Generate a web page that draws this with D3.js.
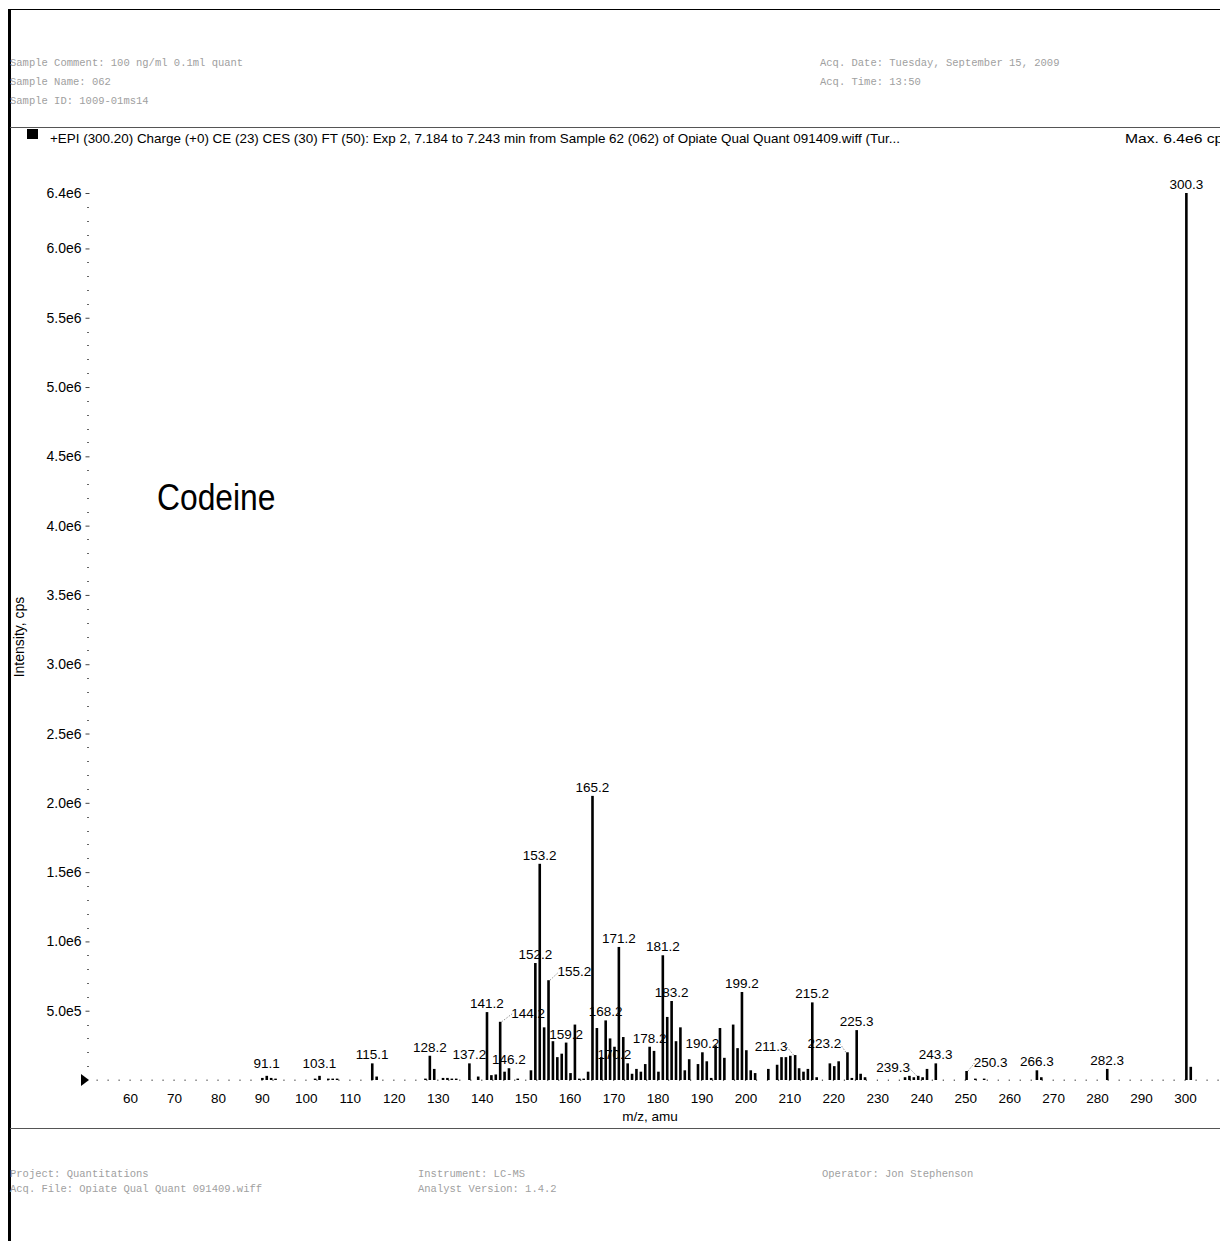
<!DOCTYPE html>
<html>
<head>
<meta charset="utf-8">
<script src="https://cdn.jsdelivr.net/npm/d3@7"></script>
<style>
  body { margin: 0; background: #fff; }
  svg { display: block; }
  text { font-family: "Liberation Sans", Arial, Helvetica, sans-serif; }
  .mono { font-family: "Liberation Mono", "DejaVu Sans Mono", monospace; }
</style>
</head>
<body>
<div id="chart"></div>
<script>
// ---- Spectrum data: centroid m/z and intensity (cps) ----
const peakMz = [
  90.1, 91.1, 92.1, 93.1, 102.1, 103.1, 105.1, 106.1, 107.1, 115.1, 116.1,
  127.2, 128.2, 129.2, 131.2, 132.2, 133.2, 134.2, 137.2, 139.2,
  141.2, 142.2, 143.2, 144.2, 145.2, 146.2, 148.2,
  151.2, 152.2, 153.2, 154.2, 155.2, 156.2, 157.2, 158.2, 159.2, 160.2,
  161.2, 162.2, 163.2, 164.2, 165.2, 166.2, 167.2, 168.2, 169.2, 170.2,
  171.2, 172.2, 173.2, 174.2, 175.2, 176.2, 177.2, 178.2, 179.2, 180.2,
  181.2, 182.2, 183.2, 184.2, 185.2, 186.2, 187.2, 189.2, 190.2,
  191.2, 192.2, 193.2, 194.2, 195.2, 197.2, 198.2, 199.2, 200.2,
  201.2, 202.2, 205.2, 207.2, 208.2, 209.2, 210.2, 211.3, 212.2, 213.2,
  214.2, 215.2, 216.2, 219.2, 220.2, 221.2, 223.2, 224.2, 225.3, 226.2,
  227.2, 236.3, 237.3, 238.3, 239.3, 240.3, 241.3, 243.3,
  250.3, 252.3, 254.3, 266.3, 267.3, 282.3, 300.3, 301.3
];
const peakIntensity = [
  1.5e4, 3e4, 1.5e4, 1e4, 1e4, 3e4, 1e4, 1e4, 1e4, 1.2e5, 2.5e4,
  1e4, 1.75e5, 8e4, 1.5e4, 1.5e4, 1e4, 1e4, 1.2e5, 2.5e4,
  4.9e5, 3.5e4, 4e4, 4.2e5, 6e4, 8.5e4, 1e4,
  7e4, 8.44e5, 1.56e6, 3.8e5, 7.2e5, 2.8e5, 1.65e5, 1.9e5, 2.7e5, 5e4,
  4.0e5, 1e4, 1e4, 6e4, 2.05e6, 3.75e5, 1.65e5, 4.3e5, 3.0e5, 2.4e5,
  9.6e5, 3.1e5, 1.2e5, 4.5e4, 8e4, 6e4, 1.15e5, 2.4e5, 2.1e5, 6e4,
  9.0e5, 4.55e5, 5.7e5, 2.8e5, 3.8e5, 7e4, 1.5e5, 1.15e5, 2.0e5,
  1.35e5, 1.5e4, 2.5e5, 3.75e5, 1.6e5, 4.0e5, 2.3e5, 6.35e5, 2.15e5,
  7e4, 5e4, 8e4, 1.1e5, 1.65e5, 1.65e5, 1.75e5, 1.8e5, 8.5e4, 6e4,
  8e4, 5.6e5, 2e4, 1.2e5, 1.0e5, 1.35e5, 2.0e5, 1.5e4, 3.6e5, 4.5e4,
  2e4, 2e4, 3e4, 2e4, 3e4, 2e4, 8e4, 1.2e5,
  6.5e4, 1e4, 1e4, 7e4, 2e4, 8e4, 6.4e6, 9.5e4
];

// Peaks that carry an m/z annotation
const labelledMz = [
  91.1, 103.1, 115.1, 128.2, 137.2, 141.2, 144.2, 146.2, 152.2, 153.2,
  155.2, 159.2, 165.2, 168.2, 170.2, 171.2, 178.2, 181.2, 183.2, 190.2,
  199.2, 211.3, 215.2, 223.2, 225.3, 239.3, 243.3, 250.3, 266.3, 282.3, 300.3
];

// Axis ticks
const xTickValues = [60, 70, 80, 90, 100, 110, 120, 130, 140, 150, 160, 170, 180,
  190, 200, 210, 220, 230, 240, 250, 260, 270, 280, 290, 300];
const yTickValues = [5e5, 1e6, 1.5e6, 2e6, 2.5e6, 3e6, 3.5e6, 4e6, 4.5e6, 5e6, 5.5e6, 6e6, 6.4e6];
const yTickLabels = ["5.0e5", "1.0e6", "1.5e6", "2.0e6", "2.5e6", "3.0e6", "3.5e6",
  "4.0e6", "4.5e6", "5.0e6", "5.5e6", "6.0e6", "6.4e6"];

// Report header / footer text
const headerLeft = ["Sample Comment: 100 ng/ml 0.1ml quant", "Sample Name: 062", "Sample ID: 1009-01ms14"];
const headerRight = ["Acq. Date: Tuesday, September 15, 2009", "Acq. Time: 13:50"];
const footerLeft = ["Project: Quantitations", "Acq. File: Opiate Qual Quant 091409.wiff"];
const footerMiddle = ["Instrument: LC-MS", "Analyst Version: 1.4.2"];
const footerRight = ["Operator: Jon Stephenson"];

const titleText = "+EPI (300.20) Charge (+0) CE (23) CES (30) FT (50): Exp 2, 7.184 to 7.243 min from Sample 62 (062) of Opiate Qual Quant 091409.wiff (Tur...";
const maxText = "Max. 6.4e6 cps";
const compoundName = "Codeine";

// Label placement tweaks (pixels) for annotations pushed aside by neighbours
const labelShift = {
  "144.2": { dx: 28, dy: 0, leader: true },
  "155.2": { dx: 26, dy: 0, leader: true },
  "170.2": { dx: 0, dy: 16, leader: false },
  "211.3": { dx: -24, dy: 0, leader: true },
  "223.2": { dx: -23, dy: 0, leader: true },
  "239.3": { dx: -25, dy: 4, leader: true },
  "250.3": { dx: 24, dy: 0, leader: true }
};

// ---- Drawing ----
const W = 1220, H = 1241;
const svg = d3.select("#chart").append("svg").attr("width", W).attr("height", H);
svg.append("rect").attr("width", W).attr("height", H).attr("fill", "#fff");

const x = d3.scaleLinear().domain([60, 300]).range([130, 1185]);
const y = d3.scaleLinear().domain([0, 6.4e6]).range([1080, 193]);
const y0 = y(0);

// Page frame and separators
svg.append("line").attr("x1", 9).attr("x2", W).attr("y1", 9.5).attr("y2", 9.5)
  .attr("stroke", "#000").attr("stroke-width", 1);
svg.append("line").attr("x1", 9.5).attr("x2", 9.5).attr("y1", 9).attr("y2", H)
  .attr("stroke", "#000").attr("stroke-width", 3);
[127.5, 1128.5].forEach(yy => {
  svg.append("line").attr("x1", 10).attr("x2", W).attr("y1", yy).attr("y2", yy)
    .attr("stroke", "#555").attr("stroke-width", 1.2);
});

// Header & footer blocks
function block(lines, x0, yStart, step) {
  svg.append("g").selectAll("text").data(lines).join("text")
    .attr("class", "mono")
    .attr("x", x0).attr("y", (d, i) => yStart + i * step)
    .attr("font-size", 10.5).attr("fill", "#a0a0a0")
    .text(d => d);
}
block(headerLeft, 10, 66, 19);
block(headerRight, 820, 66, 19);
block(footerLeft, 10, 1177, 15);
block(footerMiddle, 418, 1177, 15);
block(footerRight, 822, 1177, 15);

// Experiment title row
svg.append("rect").attr("x", 27).attr("y", 129).attr("width", 11).attr("height", 10).attr("fill", "#000");
svg.append("text").attr("x", 50).attr("y", 143).attr("font-size", 13.5)
  .attr("textLength", 850).attr("lengthAdjust", "spacingAndGlyphs")
  .text(titleText);
svg.append("text").attr("x", 1125).attr("y", 143).attr("font-size", 13.5)
  .attr("textLength", 106).attr("lengthAdjust", "spacingAndGlyphs")
  .text(maxText);

// Y axis: minor ticks every 1e5, labelled major ticks
const minorY = d3.range(1e5, 6.4e6 + 1, 1e5).filter(v => !yTickValues.some(t => Math.abs(t - v) < 1));
svg.append("g").selectAll("line").data(minorY).join("line")
  .attr("x1", 87).attr("x2", 89).attr("y1", d => Math.round(y(d)) + 0.5).attr("y2", d => Math.round(y(d)) + 0.5)
  .attr("stroke", "#666").attr("stroke-width", 1);
const yAxis = d3.axisLeft(y).tickValues(yTickValues)
  .tickFormat((d, i) => yTickLabels[i]).tickSize(4).tickPadding(4);
const gy = svg.append("g").attr("transform", "translate(89.5,0)").call(yAxis);
gy.select(".domain").remove();
gy.selectAll(".tick line").attr("stroke", "#444");
gy.selectAll(".tick text").attr("font-size", 14).attr("fill", "#000")
  .attr("font-family", "'Liberation Sans', Arial, sans-serif");

// X axis: dotted baseline plus labelled ticks
const xDots = d3.range(50, 308, 2.5);
svg.append("g").selectAll("rect").data(xDots).join("rect")
  .attr("x", d => x(d) - 0.5).attr("y", y0 - 0.5).attr("width", 1.2).attr("height", 1.5)
  .attr("fill", "#666");
const xAxis = d3.axisBottom(x).tickValues(xTickValues).tickSize(0).tickPadding(13);
const gx = svg.append("g").attr("transform", `translate(0,${y0})`).call(xAxis);
gx.select(".domain").remove();
gx.selectAll(".tick text").attr("font-size", 13.5).attr("fill", "#000")
  .attr("font-family", "'Liberation Sans', Arial, sans-serif");

// Zero marker
svg.append("path").attr("d", d3.line()([[81, y0 - 6], [89, y0], [81, y0 + 6]]) + "Z").attr("fill", "#000");

// Axis titles
svg.append("text").attr("x", 650).attr("y", 1121).attr("text-anchor", "middle")
  .attr("font-size", 13.5).text("m/z, amu");
svg.append("text").attr("transform", "translate(24,637) rotate(-90)").attr("text-anchor", "middle")
  .attr("font-size", 14).text("Intensity, cps");

// Compound name
svg.append("text").attr("transform", "translate(157,510) scale(0.86,1)")
  .attr("font-size", 37).text(compoundName);

// Peaks
const peaks = peakMz.map((m, i) => ({ mz: m, v: peakIntensity[i] }));
svg.append("g").selectAll("rect").data(peaks).join("rect")
  .attr("x", d => x(d.mz) - 1.25).attr("width", 2.6)
  .attr("y", d => y(d.v)).attr("height", d => y0 - y(d.v))
  .attr("fill", "#000");

// Peak annotations
const labels = labelledMz.map(m => {
  const p = peaks.find(q => q.mz === m);
  const s = labelShift[m.toFixed(1)] || { dx: 0, dy: 0, leader: false };
  const px = x(p.mz), py = y(p.v);
  const base = Math.min(py - 4, y0 - 12) + s.dy;
  return { text: m.toFixed(1), px, py, lx: px + s.dx, ly: base, leader: s.leader, dx: s.dx };
});
const gl = svg.append("g");
gl.selectAll("line").data(labels.filter(d => d.leader)).join("line")
  .attr("x1", d => d.px + Math.sign(d.dx) * 1.5).attr("y1", d => d.py)
  .attr("x2", d => d.lx - Math.sign(d.dx) * 16).attr("y2", d => d.ly - 4)
  .attr("stroke", "#777").attr("stroke-width", 0.8).attr("stroke-dasharray", "1.5,1.5");
gl.selectAll("text").data(labels).join("text")
  .attr("x", d => d.lx).attr("y", d => d.ly).attr("text-anchor", "middle")
  .attr("font-size", 13.5).attr("fill", "#000")
  .text(d => d.text);
</script>
</body>
</html>
